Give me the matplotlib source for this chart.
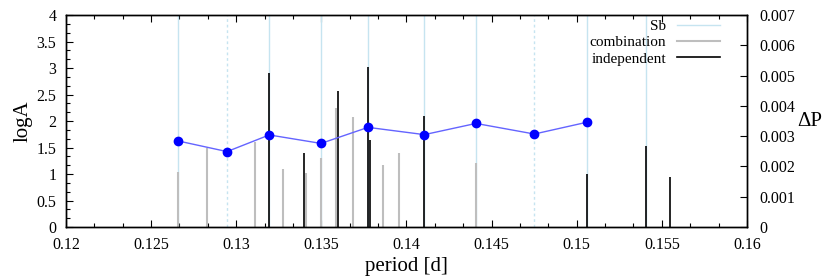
import matplotlib.pyplot as plt
from matplotlib.ticker import MultipleLocator, FormatStrFormatter

plt.rcParams['font.family'] = ['Liberation Serif', 'DejaVu Serif']
plt.rcParams['mathtext.fontset'] = 'stix'

# Sb: sequence periods and their spacings
sb_period = [0.12660, 0.12946, 0.13194, 0.13498, 0.13774, 0.14105, 0.14408, 0.14751, 0.15060, 0.15405]
sb_dashed = [False, True, False, False, False, False, False, True, False, False]
dp_period = [0.12660, 0.12946, 0.13194, 0.13498, 0.13774, 0.14105, 0.14408, 0.14751, 0.15060]
dp_value = [0.00284, 0.00249, 0.00304, 0.00276, 0.00329, 0.00305, 0.00342, 0.00307, 0.00346]

# combination frequencies
comb_period = [0.12660, 0.12826, 0.13113, 0.13276, 0.13411, 0.13498, 0.13584, 0.13684, 0.13864, 0.13956, 0.14408]
comb_logA = [1.04, 1.49, 1.61, 1.09, 1.02, 1.30, 2.25, 2.07, 1.17, 1.39, 1.20]

# independent frequencies
ind_period = [0.13194, 0.13399, 0.13596, 0.13774, 0.13786, 0.14104, 0.15058, 0.15407, 0.15548]
ind_logA = [2.90, 1.40, 2.57, 3.01, 1.65, 2.10, 1.00, 1.53, 0.94]

fig = plt.figure(figsize=(8.3, 2.77), dpi=100)
ax = fig.add_axes([0.0795, 0.1805, 0.8205, 0.7653])

sb_col = '#c6e4f0'
for p, d in zip(sb_period, sb_dashed):
    ax.plot([p, p], [0, 4], color=sb_col, lw=1.0, ls=(0, (2, 2)) if d else '-')
ax.vlines(comb_period, 0, comb_logA, color='#bebebe', lw=1.5)
ax.vlines(ind_period, 0, ind_logA, color='black', lw=1.2)

# legend proxies
ax.plot([], [], color=sb_col, lw=1.0, label='Sb')
ax.plot([], [], color='#bebebe', lw=1.5, label='combination')
ax.plot([], [], color='black', lw=1.2, label='independent')
leg = ax.legend(loc='upper right', bbox_to_anchor=(0.98, 1.045), frameon=False,
                markerfirst=False, fontsize=11, handlelength=2.8,
                labelspacing=0.17, handletextpad=0.7)
for t in leg.get_texts():
    t.set_ha('right')

ax.set_xlim(0.12, 0.16)
ax.set_ylim(0, 4)
ax.xaxis.set_major_locator(MultipleLocator(0.005))
ax.xaxis.set_minor_locator(MultipleLocator(0.005 / 3))
ax.xaxis.set_major_formatter(FormatStrFormatter('%g'))
ax.yaxis.set_major_locator(MultipleLocator(0.5))
ax.yaxis.set_minor_locator(MultipleLocator(0.5 / 3))
ax.yaxis.set_major_formatter(FormatStrFormatter('%g'))
ax.tick_params(axis='both', which='both', direction='in', labelsize=11.5)
ax.tick_params(axis='x', which='both', top=True, pad=7)
ax.tick_params(axis='y', pad=7)
ax.tick_params(which='major', length=5, width=0.8)
ax.tick_params(which='minor', length=3, width=0.8)
ax.set_xlabel('period [d]', fontsize=15, labelpad=3)
ax.set_ylabel('logA', fontsize=15, labelpad=3)

ax2 = ax.twinx()
ax2.plot(dp_period, dp_value, color='#6464ff', lw=1.0, zorder=3)
ax2.plot(dp_period, dp_value, 'o', color='#0000ff', ms=6, zorder=4)
ax2.set_ylim(0, 0.007)
ax2.yaxis.set_major_locator(MultipleLocator(0.001))
ax2.yaxis.set_major_formatter(FormatStrFormatter('%g'))
ax2.tick_params(axis='y', direction='in', labelsize=11.5, length=5, width=0.8, pad=9)
ax2.set_ylabel('ΔP', fontsize=15, rotation=0, labelpad=10, va='center')

for a in (ax, ax2):
    for s in a.spines.values():
        s.set_linewidth(1.0)

fig.savefig('out.png', dpi=100)
